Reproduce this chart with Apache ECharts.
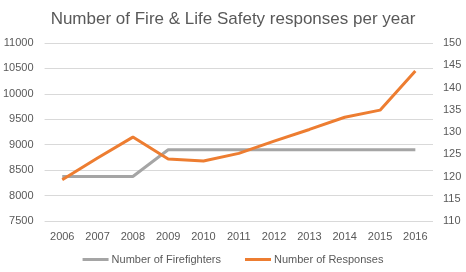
<!DOCTYPE html>
<html>
<head>
<meta charset="utf-8">
<script src="https://cdn.jsdelivr.net/npm/echarts@6/dist/echarts.min.js"></script>
<style>
  html, body { margin: 0; padding: 0; background: #fff; }
  #main { width: 466px; height: 272px; }
</style>
</head>
<body>
<div id="main"></div>
<script>
var years = ['2006', '2007', '2008', '2009', '2010', '2011', '2012', '2013', '2014', '2015', '2016'];
var firefighters = [120, 120, 120, 126, 126, 126, 126, 126, 126, 126, 126];
var responses = [8310, 8740, 9150, 8720, 8680, 8830, 9070, 9300, 9540, 9680, 10450];

var chart = echarts.init(document.getElementById('main'));
var fontFam = '"Liberation Sans", Arial, sans-serif';

var option = {
    animation: false,
    title: {
        text: 'Number of Fire & Life Safety responses per year',
        left: 'center',
        top: 6,
        textStyle: { color: '#595959', fontSize: 17, fontWeight: 'normal', fontFamily: fontFam }
    },
    legend: {
        bottom: 2,
        itemWidth: 26,
        itemHeight: 3,
        itemGap: 24,
        icon: 'rect',
        textStyle: { color: '#595959', fontSize: 11, fontFamily: fontFam, padding: [0, 0, 0, -2] },
        data: ['Number of Firefighters', 'Number of Responses']
    },
    grid: { left: 41, right: 33, top: 43, bottom: 51 },
    xAxis: {
        type: 'category',
        data: years,
        boundaryGap: true,
        axisLine: { show: false },
        axisTick: { show: false },
        axisLabel: { color: '#595959', fontSize: 11, fontFamily: fontFam, margin: 10 }
    },
    yAxis: [
        {
            type: 'value',
            min: 7500, max: 11000, interval: 500,
            axisLine: { show: false },
            axisTick: { show: false },
            axisLabel: {
                color: '#595959', fontSize: 11, fontFamily: fontFam, margin: 11,
                formatter: function (v) { return String(v); }
            },
            splitLine: { lineStyle: { color: '#d9d9d9', width: 1 } }
        },
        {
            type: 'value',
            min: 110, max: 150, interval: 5,
            position: 'right',
            axisLine: { show: false },
            axisTick: { show: false },
            axisLabel: { color: '#595959', fontSize: 11, fontFamily: fontFam, margin: 10 },
            splitLine: { show: false }
        }
    ],
    series: [
        {
            name: 'Number of Firefighters',
            type: 'line',
            yAxisIndex: 1,
            data: firefighters,
            symbol: 'none',
            itemStyle: { color: '#a5a5a5' },
            lineStyle: { color: '#a5a5a5', width: 3 }
        },
        {
            name: 'Number of Responses',
            type: 'line',
            yAxisIndex: 0,
            data: responses,
            symbol: 'none',
            itemStyle: { color: '#ed7d31' },
            lineStyle: { color: '#ed7d31', width: 3 }
        }
    ]
};
chart.setOption(option);
</script>
</body>
</html>
